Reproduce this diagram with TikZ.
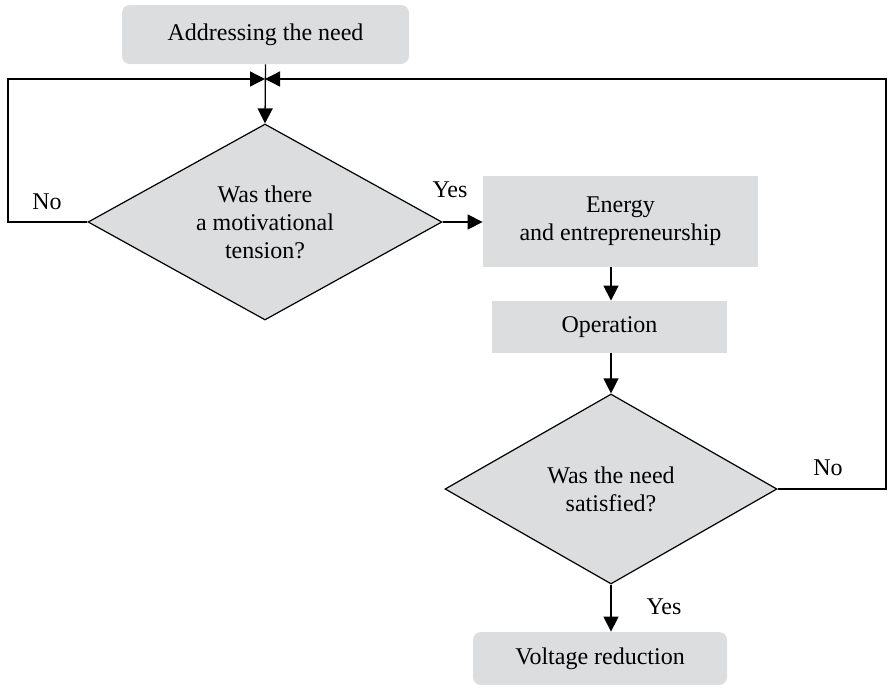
\documentclass[tikz,border=0pt]{standalone}
\usepackage{fontspec}
\setmainfont{Liberation Serif}
\usetikzlibrary{shapes.geometric,arrows.meta}
\definecolor{boxgray}{RGB}{220,221,222}
\tikzset{
  txt/.style={font=\fontsize{12}{14}\selectfont, align=center, inner sep=0pt},
  stepbox/.style={txt, fill=boxgray, minimum width=#1},
  roundbox/.style={stepbox=#1, rounded corners=4pt},
  question/.style={txt, diamond, draw=black, fill=boxgray, line width=0.6pt, aspect=2},
  arr/.style={line width=0.65pt, -{Triangle[length=7.5pt,width=7.5pt]}},
  line/.style={line width=0.65pt}
}
\begin{document}
\begin{tikzpicture}[x=0.5pt,y=-0.5pt]
\useasboundingbox (0,0) rectangle (889,687);
% boxes
\node [roundbox=143.5pt, minimum height=29.5pt] (need) at (265.5,34.5) {Addressing the need};
\node [question, minimum width=177pt, minimum height=98pt] (dmt) at (265,222) {Was there\\a motivational\\tension?};
\node [stepbox=137.5pt, minimum height=45.5pt] (energy) at (620.5,221.5) {Energy\\and entrepreneurship};
\node [stepbox=117.5pt, minimum height=26pt] (op) at (609.5,327) {Operation};
\node [question, minimum width=166pt, minimum height=95pt] (dns) at (611,489) {Was the need\\satisfied?};
\node [roundbox=127pt, minimum height=26.5pt] (volt) at (600,658.5) {Voltage reduction};
% loop corners
\coordinate (junc) at (265,79);
\coordinate (leftc) at (8,79);
\coordinate (rightc) at (886,79);
% connectors
\draw [arr] (need.south) -- (dmt.north);
\draw [arr] (dmt.west) -| (leftc) -- (junc);
\draw [arr] (dns.east) -| (rightc) -- (junc);
\draw [arr] (dmt.east) -- (dmt.east -| energy.west);
\draw [arr] (energy.south -| dns.north) -- (op.north -| dns.north);
\draw [arr] (op.south -| dns.north) -- (dns.north);
\draw [arr] (dns.south) -- (volt.north -| dns.south);
% labels
\node [txt] (no1) at (47,202) {No};
\node [txt] (yes1) at (450,190) {Yes};
\node [txt] (no2) at (828,468) {No};
\node [txt] (yes2) at (664,607) {Yes};
\end{tikzpicture}
\end{document}
